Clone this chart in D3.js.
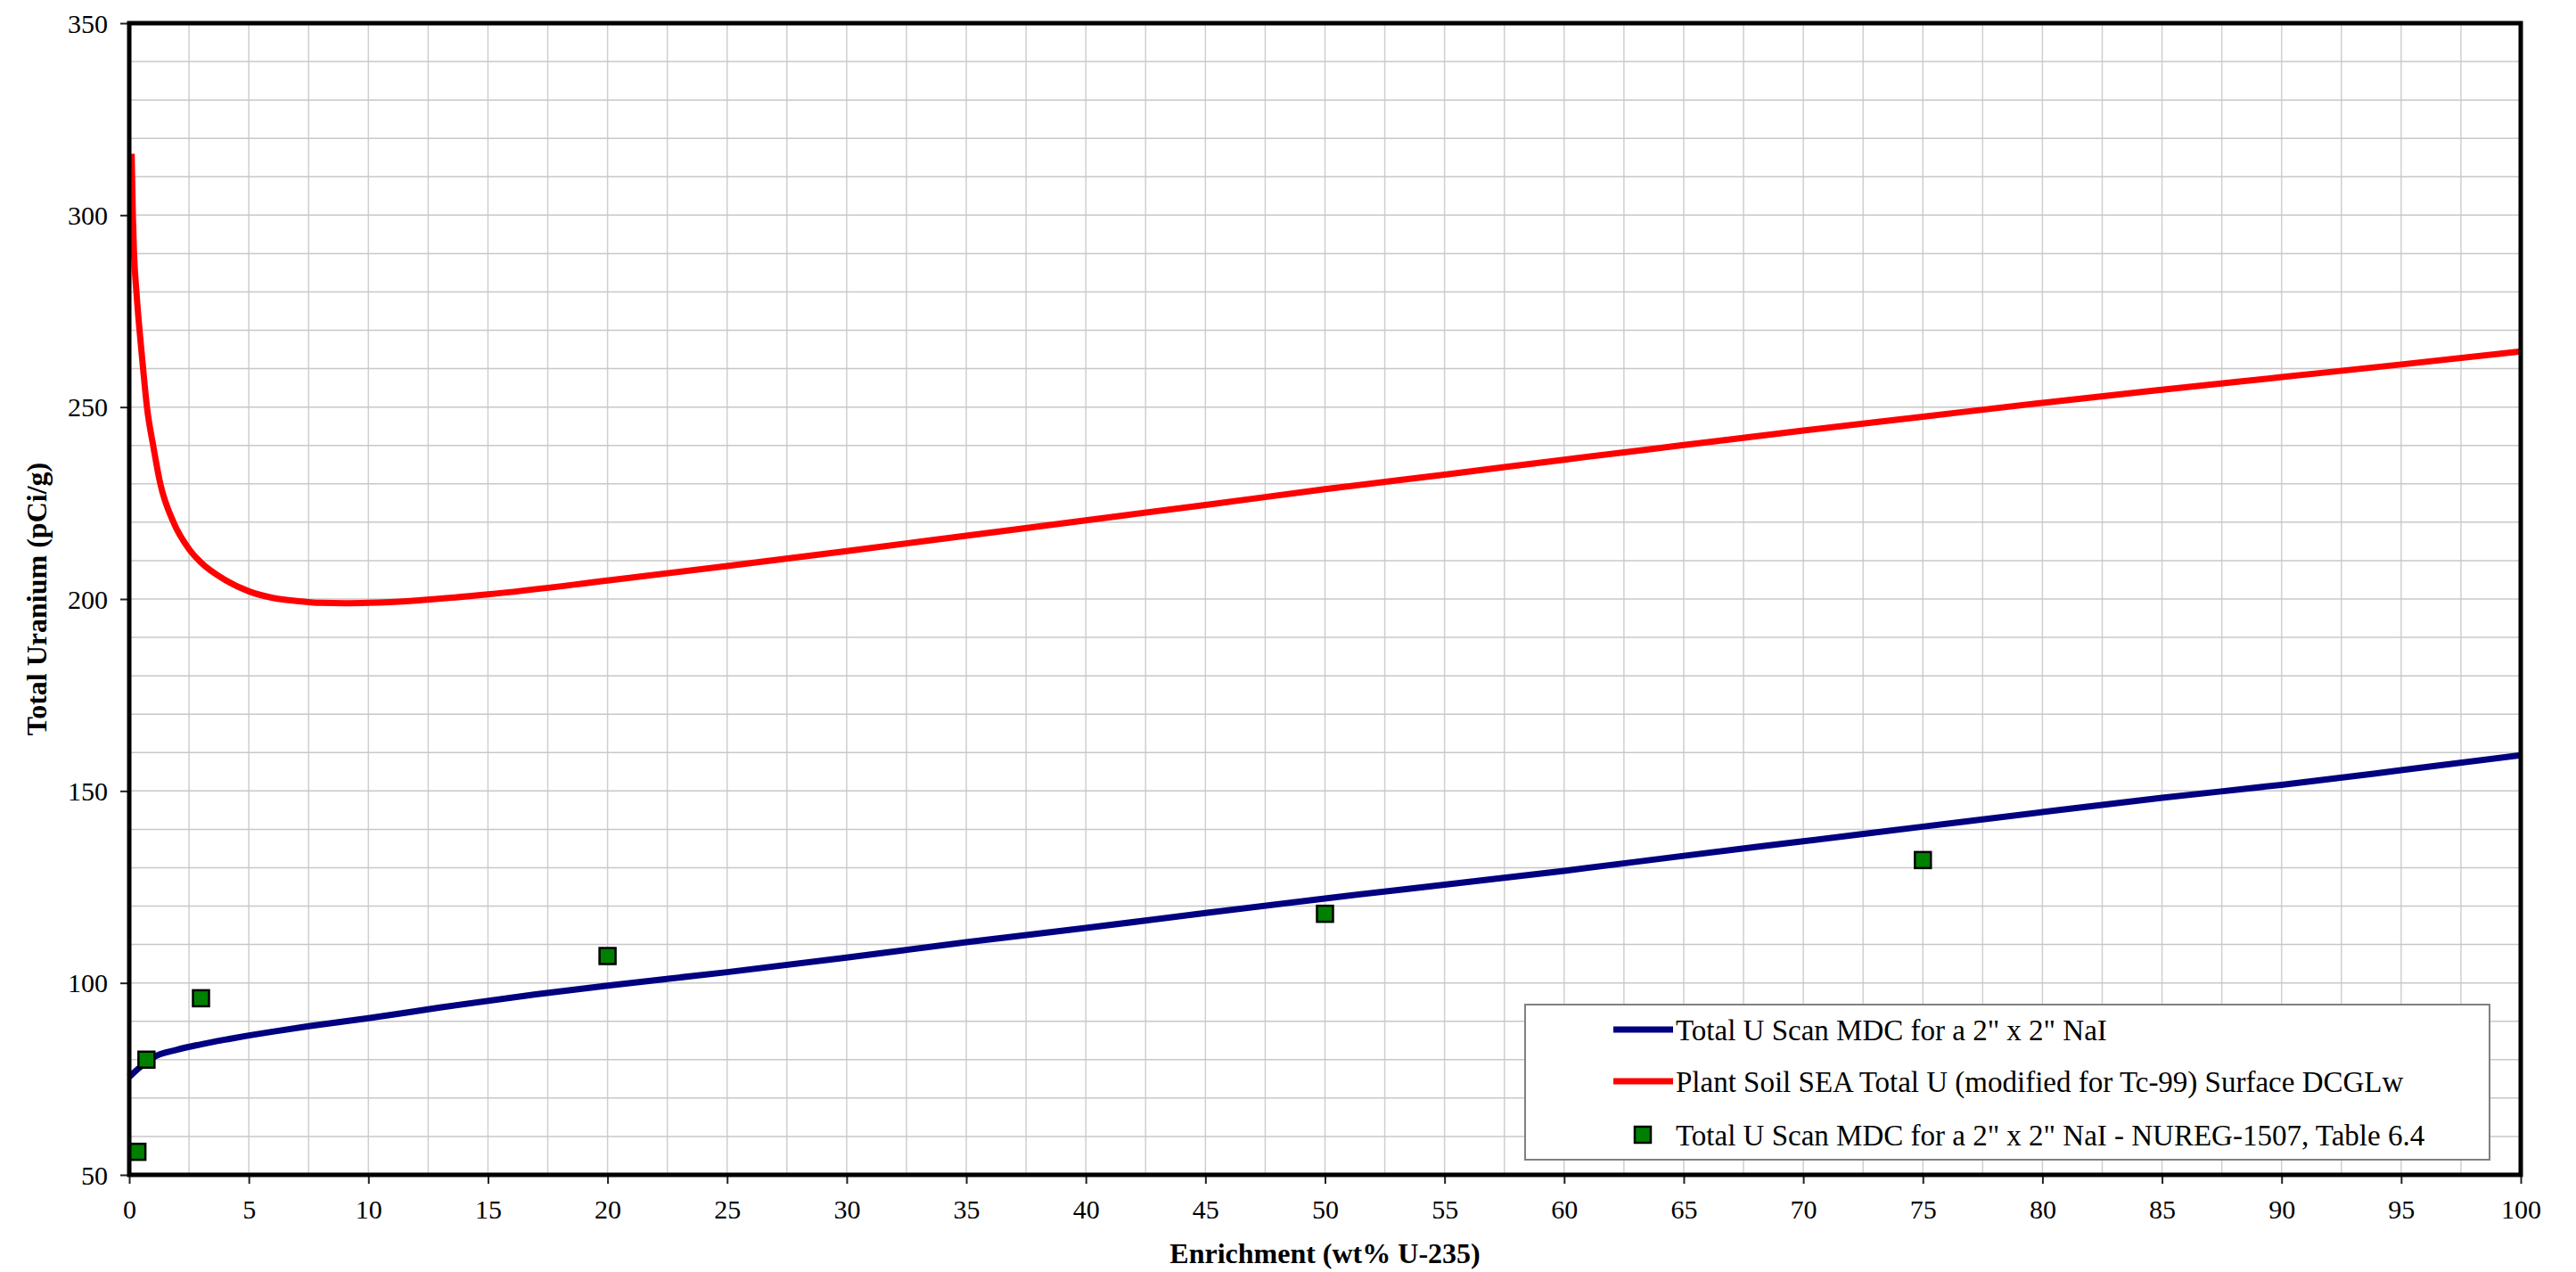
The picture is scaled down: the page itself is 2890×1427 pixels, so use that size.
<!DOCTYPE html>
<html>
<head>
<meta charset="utf-8">
<script src="https://cdn.jsdelivr.net/npm/d3@7"></script>
<style>
body { margin: 0; background: #fff; }
text { font-family: "Liberation Serif", "Times New Roman", serif; }
</style>
</head>
<body>
<div id="chart"></div>
<script>
// series values
var enrichBlue = [0, 0.5, 1, 2, 3, 4, 5, 6, 7.5, 10, 13, 17, 20, 25, 30, 35, 40, 45, 50, 55, 60, 65, 70, 75, 80, 85, 90, 95, 100]
var mdcBlue = [75.5, 78.3, 80.6, 82.6, 84.0, 85.2, 86.3, 87.3, 88.7, 90.8, 93.6, 97.0, 99.3, 102.8, 106.6, 110.6, 114.3, 118.2, 122.0, 125.6, 129.2, 133.1, 136.9, 140.7, 144.5, 148.2, 151.6, 155.4, 159.3]

var enrichRed = [0.1, 0.15, 0.2, 0.3, 0.43, 0.58, 0.74, 1.0, 1.3, 1.85, 2.5, 3, 4, 5, 6, 7, 8, 9, 10, 12, 15, 20, 25, 30, 35, 40, 45, 50, 55, 60, 65, 70, 75, 80, 85, 90, 95, 100]
var dcglRed = [316, 300, 290, 280, 270, 260, 250, 240, 230, 220, 213, 209.5, 205, 202, 200.3, 199.5, 199, 198.9, 199, 199.6, 201.2, 204.8, 208.6, 212.5, 216.5, 220.5, 224.5, 228.6, 232.4, 236.3, 240.1, 243.9, 247.5, 251.1, 254.5, 257.8, 261.1, 264.5]

var enrichNureg = [0.34, 0.72, 3, 20, 50, 75]
var mdcNureg = [56, 80, 96, 107, 118, 132]

var xTicks = d3.range(0, 101, 5)
var yTicks = d3.range(50, 351, 50)

var legendLabels = [
	'Total U Scan MDC for a 2" x 2" NaI',
	'Plant Soil SEA Total U (modified for Tc-99) Surface DCGLw',
	'Total U Scan MDC for a 2" x 2" NaI - NUREG-1507, Table 6.4'
]

var width = 2890
var height = 1427
var pL = 145, pR = 2828, pT = 26, pB = 1318

var svg = d3.select("#chart").append("svg")
	.attr("width", width)
	.attr("height", height)

var x = d3.scaleLinear().domain([0, 100]).range([pL, pR])
var y = d3.scaleLinear().domain([50, 350]).range([pB, pT])

// grid
svg.append("g").selectAll("line")
	.data(d3.range(2.5, 100, 2.5)).enter()
	.append("line")
	  .attr("x1", x).attr("x2", x)
	  .attr("y1", pT).attr("y2", pB)
	  .attr("stroke", "#cfcfcf")
	  .attr("stroke-width", 1.5)
svg.append("g").selectAll("line")
	.data(d3.range(60, 350, 10)).enter()
	.append("line")
	  .attr("x1", pL).attr("x2", pR)
	  .attr("y1", y).attr("y2", y)
	  .attr("stroke", "#c8c8c8")
	  .attr("stroke-width", 1.5)

// axes
var xAxis = svg.append("g")
	.attr("transform", "translate(0," + pB + ")")
	.call(d3.axisBottom(x).tickValues(xTicks).tickSize(10).tickPadding(18).tickFormat(d3.format("d")))
var yAxis = svg.append("g")
	.attr("transform", "translate(" + pL + ",0)")
	.call(d3.axisLeft(y).tickValues(yTicks).tickSize(10).tickPadding(14).tickFormat(d3.format("d")))
svg.selectAll(".domain").remove()
svg.selectAll(".tick line").attr("stroke", "#222").attr("stroke-width", 2)
svg.selectAll(".tick text")
	.attr("font-family", "Liberation Serif")
	.attr("font-size", 30)
	.attr("fill", "#000")
yAxis.selectAll(".tick text").attr("dy", "0.34em")

// lines
var lineGen = d3.line()
	.x(function(d){return x(d[0])})
	.y(function(d){return y(d[1])})
	.curve(d3.curveMonotoneX)

svg.append("path")
	.datum(d3.zip(enrichBlue, mdcBlue))
	.attr("d", lineGen)
	.attr("fill", "none")
	.attr("stroke", "#000080")
	.attr("stroke-width", 7)
svg.append("path")
	.datum(d3.zip(enrichRed, dcglRed))
	.attr("d", lineGen)
	.attr("fill", "none")
	.attr("stroke", "#ff0000")
	.attr("stroke-width", 7)

// markers
var ms = 18
svg.append("g").selectAll("rect")
	.data(d3.zip(enrichNureg, mdcNureg)).enter()
	.append("rect")
	  .attr("x", function(d){return x(d[0]) - ms/2})
	  .attr("y", function(d){return y(d[1]) - ms/2})
	  .attr("width", ms).attr("height", ms)
	  .attr("fill", "#008000")
	  .attr("stroke", "#000")
	  .attr("stroke-width", 2.5)

// frame
svg.append("rect")
	.attr("x", pL).attr("y", pT)
	.attr("width", pR - pL).attr("height", pB - pT)
	.attr("fill", "none")
	.attr("stroke", "#000")
	.attr("stroke-width", 5)

// axis titles
svg.append("text")
	.attr("x", (pL + pR) / 2)
	.attr("y", 1417)
	.attr("text-anchor", "middle")
	.attr("font-weight", "bold")
	.attr("font-size", 32)
	.text("Enrichment (wt% U-235)")
svg.append("text")
	.attr("transform", "translate(52," + (pT + pB) / 2 + ") rotate(-90)")
	.attr("text-anchor", "middle")
	.attr("font-weight", "bold")
	.attr("font-size", 32)
	.text("Total Uranium (pCi/g)")

// legend
var lg = svg.append("g")
lg.append("rect")
	.attr("x", 1711).attr("y", 1127)
	.attr("width", 1082).attr("height", 174)
	.attr("fill", "#fff")
	.attr("stroke", "#808080")
	.attr("stroke-width", 2)
var rowY = [1155, 1213, 1273]
lg.append("line")
	.attr("x1", 1810).attr("x2", 1877)
	.attr("y1", rowY[0]).attr("y2", rowY[0])
	.attr("stroke", "#000080").attr("stroke-width", 7)
lg.append("line")
	.attr("x1", 1810).attr("x2", 1877)
	.attr("y1", rowY[1]).attr("y2", rowY[1])
	.attr("stroke", "#ff0000").attr("stroke-width", 7)
lg.append("rect")
	.attr("x", 1843 - ms/2).attr("y", rowY[2] - ms/2)
	.attr("width", ms).attr("height", ms)
	.attr("fill", "#008000")
	.attr("stroke", "#000")
	.attr("stroke-width", 2.5)
lg.selectAll("text")
	.data(legendLabels).enter()
	.append("text")
	  .attr("x", 1880)
	  .attr("y", function(d, i){return rowY[i] + 12})
	  .attr("font-size", 33)
	  .text(function(d){return d})
</script>
</body>
</html>
